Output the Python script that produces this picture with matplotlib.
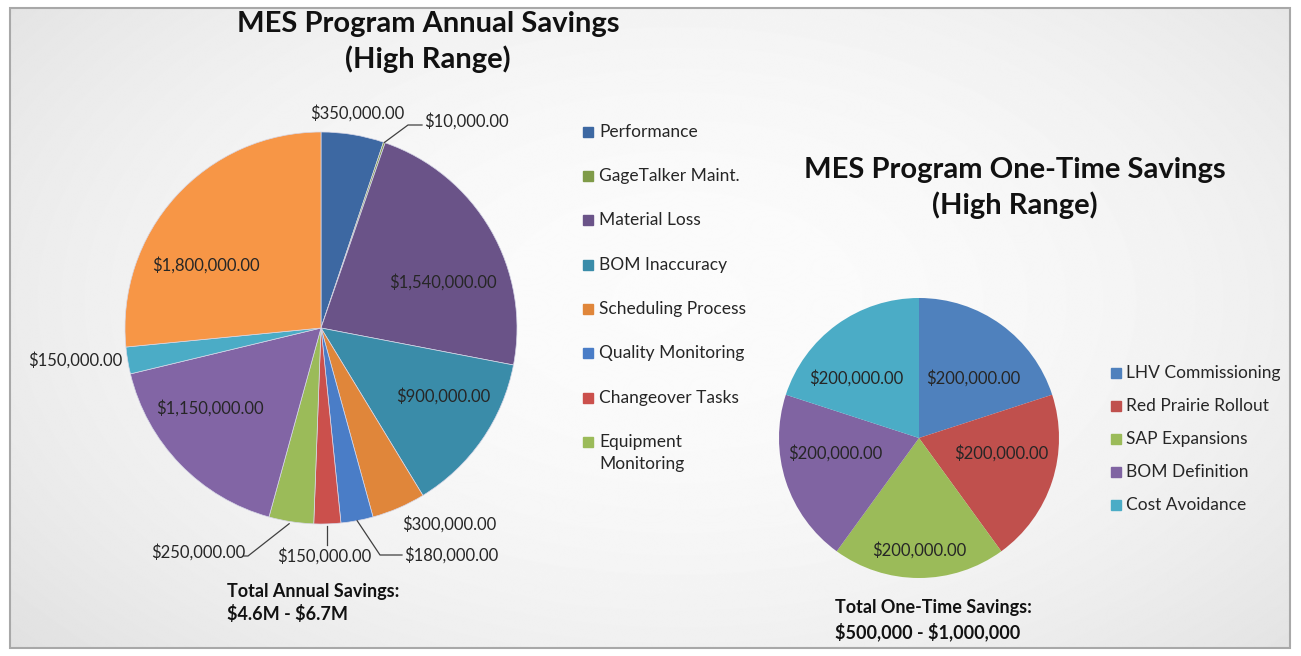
import numpy as np
import matplotlib.pyplot as plt
from matplotlib.patches import Rectangle

plt.rcParams['font.family'] = ['Lato', 'DejaVu Sans']

# annual savings (high range), clockwise from 12 o'clock
annual_values = [350000, 10000, 1540000, 900000, 300000, 180000, 150000,
                 250000, 1150000, 150000, 1800000]
annual_legend = ['Performance', 'GageTalker Maint.', 'Material Loss', 'BOM Inaccuracy',
                 'Scheduling Process', 'Quality Monitoring', 'Changeover Tasks',
                 'Equipment\nMonitoring']
annual_colors = ['#3D68A2', '#7F9B48', '#6A5388', '#3A8CA9', '#E0863A', '#4A7DC7',
                 '#CB504C', '#9BBB59', '#8265A5', '#4BACC6', '#F79646']

# one-time savings (high range)
onetime_values = [200000, 200000, 200000, 200000, 200000]
onetime_legend = ['LHV Commissioning', 'Red Prairie Rollout', 'SAP Expansions',
                  'BOM Definition', 'Cost Avoidance']
onetime_colors = ['#4F81BD', '#C0504D', '#9BBB59', '#8064A2', '#4BACC6']

W, H = 1301, 656
fig = plt.figure(figsize=(W / 100, H / 100), dpi=100)
ax = fig.add_axes([0, 0, 1, 1])

# soft grey backdrop like the slide
yy, xx = np.mgrid[0:H, 0:W]
d = np.sqrt(((xx - 680) / 760.0) ** 2 + ((yy - 300) / 460.0) ** 2)
bg = 0.985 - 0.075 * np.clip(d, 0, 1.2) ** 2
ax.imshow(bg, cmap='gray', vmin=0, vmax=1, extent=[10, 1290, 648, 8], zorder=0)
ax.add_patch(Rectangle((10, 8), 1280, 640, fill=False, ec='#a8a8a8', lw=1.5, zorder=1))

def fmt(v):
    return '\\${:,.2f}'.format(v)

def edge_pt(w, r_frac=1.0):
    cx, cy = w.center
    a = np.deg2rad((w.theta1 + w.theta2) / 2)
    return cx + w.r * r_frac * np.cos(a), cy + w.r * r_frac * np.sin(a)

txt = '#262626'
lfs = 12

# ---- annual pie ----
w1, _ = ax.pie(annual_values, colors=annual_colors, startangle=-90, counterclock=True,
               center=(321, 328), radius=196,
               wedgeprops=dict(edgecolor='#d8d8e8', linewidth=0.5))

# label positions (pixel coords) and leader knee points
a_lab = [((357, 113), 'center', None),
         ((424, 121), 'left', (408, 125)),
         ((443, 282), 'center', None),
         ((443, 396), 'center', None),
         ((449, 524), 'center', None),
         ((404, 555), 'left', (380, 555)),
         ((324, 556), 'center', (327, 545)),
         ((198, 552), 'center', (252, 552)),
         ((210, 408), 'center', None),
         ((75, 360), 'center', None),
         ((206, 265), 'center', None)]
for w, v, (pos, ha, knee) in zip(w1, annual_values, a_lab):
    ax.text(pos[0], pos[1], fmt(v), ha=ha, va='center', fontsize=lfs, color=txt, zorder=5)
    if knee is not None:
        ex, ey = edge_pt(w)
        if ha == 'left':
            ax.plot([ex, knee[0], pos[0] - 2], [ey, knee[1], knee[1]], color='#404040', lw=0.9, zorder=4)
        elif knee[1] == 545:
            ax.plot([knee[0], knee[0]], [ey + 2, knee[1]], color='#404040', lw=0.9, zorder=4)
        else:
            ax.plot([ex - 2, knee[0] - 4, knee[0] - 8], [ey + 2, knee[1] + 4, knee[1] + 4],
                    color='#404040', lw=0.9, zorder=4)

# legend for annual pie
ly = [132, 176, 220, 265, 309, 353, 398, 453]
for i, name in enumerate(annual_legend):
    top = ly[i] - 11 if '\n' in name else ly[i]
    ax.add_patch(Rectangle((583, top - 5), 10, 10, color=annual_colors[i], zorder=3))
    ax.text(599, ly[i], name, ha='left', va='center', fontsize=12.5, color=txt,
            linespacing=1.5, zorder=3)

ax.text(428, 42, 'MES Program Annual Savings\n(High Range)', ha='center', va='center',
        fontsize=21, fontweight='bold', color='#111111', linespacing=1.33)
ax.text(227, 603, 'Total Annual Savings:\n\\$4.6M - \\$6.7M', ha='left', va='center',
        fontsize=13, fontweight='bold', color='#111111', linespacing=1.4)

# ---- one-time pie ----
w2, _ = ax.pie(onetime_values, colors=onetime_colors, startangle=-90, counterclock=True,
               center=(919, 438), radius=140,
               wedgeprops=dict(edgecolor='none'))
o_lab = [(973, 378), (1001, 453), (919, 550), (835, 453), (856, 378)]
for v, pos in zip(onetime_values, o_lab):
    ax.text(pos[0], pos[1], fmt(v), ha='center', va='center', fontsize=lfs, color=txt, zorder=5)

for i, name in enumerate(onetime_legend):
    y = 373 + 33 * i
    ax.add_patch(Rectangle((1111, y - 5), 10, 10, color=onetime_colors[i], zorder=3))
    ax.text(1126, y, name, ha='left', va='center', fontsize=12.5, color=txt, zorder=3)

ax.text(1015, 188, 'MES Program One-Time Savings\n(High Range)', ha='center', va='center',
        fontsize=21, fontweight='bold', color='#111111', linespacing=1.33)
ax.text(835, 620, 'Total One-Time Savings:\n\\$500,000 - \\$1,000,000', ha='left', va='center',
        fontsize=13, fontweight='bold', color='#111111', linespacing=1.4)

ax.set_xlim(0, W)
ax.set_ylim(H, 0)
ax.axis('off')
fig.savefig('out.png', dpi=100, facecolor='white')
